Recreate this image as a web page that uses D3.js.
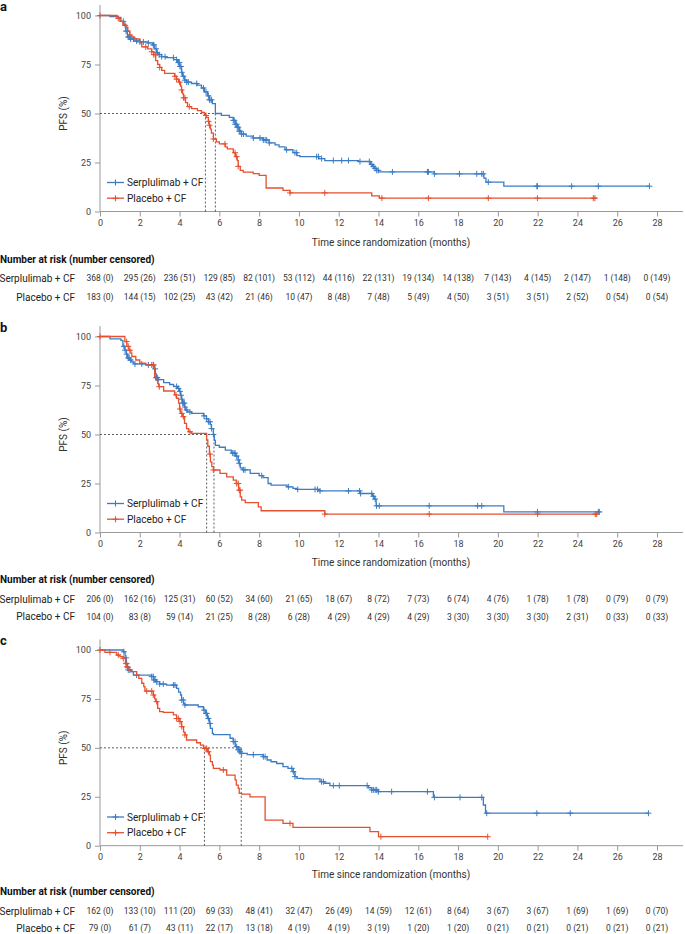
<!DOCTYPE html>
<html>
<head>
<meta charset="utf-8">
<script src="https://cdn.jsdelivr.net/npm/d3@7"></script>
<style>
  body { margin: 0; background: #fff; }
  svg { display: block; font-family: Roboto, "Noto Sans", sans-serif; }
</style>
</head>
<body>
<div id="main"></div>
<script>
// ---- data ----
const months = d3.range(0, 29, 2);
const yTicks = [0, 25, 50, 75, 100];
const groups = ['Serplulimab + CF', 'Placebo + CF'];

// panel a : [time, PFS after the drop]
const aSerpSteps = [[0.5,99.5],[0.92,99],[1.05,97],[1.2,95],[1.3,92],[1.38,89],[1.5,88],[1.7,87],[2.0,86.5],[2.4,86],[2.65,85],[2.75,83],[2.85,81],[2.95,80],[3.1,79],[3.3,78.5],[3.7,77.5],[3.9,76],[4.0,74],[4.1,71],[4.15,69],[4.25,67],[4.35,66],[4.6,65.3],[4.9,64.5],[5.1,63],[5.25,61],[5.4,59],[5.5,57],[5.65,55],[5.8,50],[6.1,49],[6.5,48],[6.7,46.5],[6.8,44.5],[6.9,43],[7.0,41],[7.1,39.5],[7.35,38.5],[7.7,37.5],[8.2,36.5],[8.5,35],[8.8,34],[9.0,33],[9.3,31.5],[9.7,30],[9.9,28.5],[10.05,28],[11.0,27],[11.3,26],[13.0,25.5],[13.6,24],[13.7,23],[13.8,22],[13.9,21],[14.0,20.2],[16.8,19.2],[19.3,17],[19.4,15],[20.3,12.9]];
const aSerpCensor = [1.17,1.26,1.31,1.37,1.42,1.47,1.54,1.68,1.84,2.01,2.18,2.43,2.68,2.71,2.82,2.88,2.98,3.1,3.27,3.69,3.85,3.94,3.99,4.02,4.07,4.11,4.19,4.27,4.36,4.44,4.86,5.2,5.33,5.45,5.5,5.53,5.61,6.7,6.75,6.8,6.87,6.9,6.95,7.0,7.04,7.12,7.21,7.71,8.04,8.21,8.3,8.38,8.51,9.38,9.8,9.89,10.89,10.98,11.14,11.73,12.15,12.49,13.07,13.54,13.66,13.74,13.83,13.91,13.99,14.7,16.46,16.51,16.81,18.07,18.94,19.19,19.27,19.52,21.96,21.99,23.71,25.05,27.62];
const aSerpEnd = 27.62;
const aPlacSteps = [[0.85,98.5],[1.0,97],[1.15,95.5],[1.3,94],[1.4,92],[1.5,90],[1.6,89],[1.75,88],[2.0,86],[2.1,84],[2.4,83],[2.6,81.5],[2.7,80],[2.8,77],[2.9,75],[3.0,73.5],[3.1,72],[3.25,70.5],[3.75,69],[3.85,67.5],[3.95,66],[4.05,64],[4.1,62],[4.15,60],[4.2,58],[4.3,55.5],[4.4,53.5],[4.6,52.5],[4.9,51.5],[5.1,50.5],[5.25,49],[5.35,48],[5.45,46],[5.5,44],[5.55,42],[5.6,40],[5.7,37],[5.85,35.5],[6.0,34.5],[6.3,33],[6.4,32],[6.7,30],[6.8,28],[6.9,26],[6.95,23],[7.05,21],[7.2,20.1],[7.7,19.3],[8.0,18.4],[8.35,12],[9.2,10.8],[9.55,9.5],[13.66,8.0],[14.04,6.8]];
const aPlacCensor = [0,0.92,1.5,2.3,2.6,2.7,2.78,3.0,3.77,3.85,4.0,4.1,4.2,4.27,4.49,5.33,5.45,5.5,5.7,6.28,6.79,6.87,6.95,9.55,11.3,14.17,16.51,19.52,21.99,24.8,24.88];
const aPlacEnd = 24.97;
const aMedians = [5.8, 5.3];
const aSerpRisk = [368,295,236,129,82,53,44,22,19,14,7,4,2,1,0];
const aSerpCens = [0,26,51,85,101,112,116,131,134,138,143,145,147,148,149];
const aPlacRisk = [183,144,102,43,21,10,8,7,5,4,3,3,2,0,0];
const aPlacCens = [0,15,25,42,46,47,48,48,49,50,51,51,52,54,54];

// panel b
const bSerpSteps = [[0.5,98.8],[1.05,98],[1.15,95],[1.25,93],[1.32,91],[1.38,89],[1.5,88],[1.6,87],[1.7,86],[2.3,85.5],[2.72,83.5],[2.78,81],[2.82,79],[2.9,78],[3.2,76.5],[3.5,75.5],[3.7,74.5],[3.9,73.5],[4.0,72],[4.05,70],[4.1,68],[4.15,66],[4.25,64],[4.3,62.5],[4.4,61.5],[4.6,60.8],[5.2,59.5],[5.35,58],[5.45,56.5],[5.55,55],[5.6,53],[5.7,50],[5.75,47],[5.8,44.5],[6.0,43.5],[6.3,42],[6.6,40.5],[6.8,39],[6.95,37],[7.0,35.3],[7.05,33],[7.15,32],[7.55,30.2],[8.0,29],[8.2,28],[8.45,25],[8.6,24.2],[9.4,23.3],[9.7,22.5],[9.9,22],[11.0,21.2],[13.07,19.9],[13.7,18.5],[13.8,17],[13.88,13.6],[20.3,10.5]];
const bSerpCensor = [1.2,1.26,1.34,1.42,1.47,1.54,1.76,2.1,2.43,2.68,2.77,2.82,2.85,2.88,2.93,3.85,3.94,4.02,4.07,4.11,4.16,4.19,4.24,4.27,4.36,4.52,5.23,5.36,5.45,5.53,5.61,5.7,6.67,6.74,6.79,6.87,6.95,7.0,7.21,7.29,8.13,9.47,9.94,10.81,10.93,11.06,12.49,13.05,13.1,13.66,13.74,13.83,13.9,14.04,16.55,18.98,19.19,21.99,25.05,25.1];
const bSerpEnd = 25.1;
const bPlacSteps = [[1.25,97.4],[1.35,95],[1.45,93],[1.55,91.5],[1.6,89.8],[1.8,88],[2.0,86.4],[2.3,85.5],[2.72,83.5],[2.75,79.6],[2.8,77.9],[2.9,76],[2.95,74.4],[3.2,72.2],[3.75,70.2],[3.85,68.5],[3.95,66],[4.0,63],[4.05,60.8],[4.15,59.1],[4.25,55.7],[4.35,53],[4.45,51.4],[4.6,50.6],[5.36,47.2],[5.42,44],[5.5,40],[5.55,36],[5.62,33.6],[5.7,31.9],[6.03,30.2],[6.37,28.4],[6.7,26.7],[6.85,25],[6.97,21.6],[7.05,18.2],[7.12,16.5],[7.3,15.2],[7.96,13.1],[8.1,11.1],[11.3,9.4]];
const bPlacCensor = [0,1.34,1.42,1.5,2.6,2.68,2.98,3.82,4.02,4.11,4.19,4.52,5.53,5.7,6.87,6.95,7.0,7.04,11.3,16.55,22.0,24.9,24.97];
const bPlacEnd = 24.97;
const bMedians = [5.73, 5.36];
const bSerpRisk = [206,162,125,60,34,21,18,8,7,6,4,1,1,0,0];
const bSerpCens = [0,16,31,52,60,65,67,72,73,74,76,78,78,79,79];
const bPlacRisk = [104,83,59,21,8,6,4,4,4,3,3,3,2,0,0];
const bPlacCens = [0,8,14,25,28,28,29,29,29,30,30,30,31,33,33];

// panel c
const cSerpSteps = [[1.17,99.1],[1.26,96],[1.32,93],[1.38,91],[1.42,89.8],[1.55,88.9],[1.68,87.2],[2.6,86.4],[2.7,84.7],[2.8,83.8],[3.0,82.6],[3.35,82.1],[3.85,80.4],[3.95,78.5],[4.05,77],[4.1,74.4],[4.2,72.5],[4.27,71.9],[4.94,71],[5.2,69.3],[5.3,67.6],[5.4,65],[5.5,62.5],[5.55,60],[5.65,57.4],[5.7,56.8],[6.54,54.9],[6.7,53.2],[6.8,50.6],[6.95,49],[7.04,48],[7.1,47.2],[7.4,46.5],[8.2,45.5],[8.4,43.8],[8.6,42.9],[8.88,42],[9.2,40.4],[9.45,39.5],[9.7,37.8],[9.8,35.3],[9.9,34.4],[10.2,34.1],[11.06,32.7],[11.3,31.9],[11.56,30.7],[13.49,29.6],[13.66,28.5],[13.99,27.6],[16.76,24.7],[19.27,20.8],[19.38,16.6]];
const cSerpCensor = [1.2,1.31,1.34,1.39,1.42,1.5,1.84,2.6,2.68,2.71,2.77,2.85,3.0,3.18,3.69,3.77,4.11,4.19,4.27,5.23,5.33,5.36,5.45,5.53,6.7,6.79,6.87,6.95,7.0,7.04,7.12,7.71,8.21,8.3,9.64,9.72,9.8,11.14,11.23,11.73,12.03,13.43,13.66,13.74,13.83,13.91,13.99,14.66,16.46,16.81,18.1,19.19,19.44,21.96,23.64,27.57];
const cSerpEnd = 27.57;
const cPlacSteps = [[0.25,98.8],[0.84,97.4],[1.0,96.6],[1.15,95.7],[1.28,93.2],[1.35,91.5],[1.42,89.8],[1.6,88.9],[1.84,87.2],[1.95,85.5],[2.1,83],[2.2,81.3],[2.26,79],[2.68,77],[2.75,75],[2.8,73.6],[2.9,70.2],[3.0,68.5],[3.18,68.1],[3.69,66.8],[3.85,65],[4.02,63.4],[4.1,60.8],[4.2,58],[4.27,56.6],[4.35,54],[4.86,52.6],[5.05,51.4],[5.2,49.7],[5.4,48],[5.5,46.3],[5.55,43],[5.65,41.2],[5.7,39.5],[6.03,38.7],[6.37,36.1],[6.79,33.6],[6.85,31],[6.95,29.3],[7.0,26.7],[7.12,26.4],[7.54,25],[8.3,13.1],[9.2,11.4],[9.7,9.4],[13.57,7.2],[14.0,4.6]];
const cPlacCensor = [0,0.5,0.92,1.17,1.3,1.37,2.35,2.6,2.68,2.85,3.85,3.94,4.02,4.11,4.27,5.28,5.36,5.45,6.2,9.55,14.12,19.49];
const cPlacEnd = 19.49;
const cMedians = [7.1, 5.25];
const cSerpRisk = [162,133,111,69,48,32,26,14,12,8,3,3,1,1,0];
const cSerpCens = [0,10,20,33,41,47,49,59,61,64,67,67,69,69,70];
const cPlacRisk = [79,61,43,22,13,4,4,3,1,1,0,0,0,0,0];
const cPlacCens = [0,7,11,17,18,19,19,19,20,20,21,21,21,21,21];

const colors = ['#3b7cc4', '#e5502f'];

// table offsets below the x axis: [title, header, first row, row gap]
const panels = [
  { label: 'a', top: 15.5, bottom: 211.5, table: [30.5, 47.5, 67, 18.8],
    curves: [[aSerpSteps, aSerpCensor, aSerpEnd], [aPlacSteps, aPlacCensor, aPlacEnd]],
    medians: aMedians, risk: [[aSerpRisk, aSerpCens], [aPlacRisk, aPlacCens]] },
  { label: 'b', top: 336.5, bottom: 532.5, table: [29.5, 46.5, 66.5, 17.8],
    curves: [[bSerpSteps, bSerpCensor, bSerpEnd], [bPlacSteps, bPlacCensor, bPlacEnd]],
    medians: bMedians, risk: [[bSerpRisk, bSerpCens], [bPlacRisk, bPlacCens]] },
  { label: 'c', top: 650, bottom: 845.7, table: [29, 46, 65.5, 17],
    curves: [[cSerpSteps, cSerpCensor, cSerpEnd], [cPlacSteps, cPlacCensor, cPlacEnd]],
    medians: cMedians, risk: [[cSerpRisk, cSerpCens], [cPlacRisk, cPlacCens]] }
];

// ---- drawing ----
const width = 685, height = 934;
const svg = d3.select('#main').append('svg')
  .attr('width', width)
  .attr('height', height);

const x = d3.scaleLinear().domain([0, 28]).range([100, 657]);
const plus = 'M-3,0H3M0,-3V3';
const stepLine = d3.line().curve(d3.curveStepAfter);

panels.forEach((p) => {
  const g = svg.append('g');
  const y = d3.scaleLinear().domain([0, 100]).range([p.bottom, p.top]);
  const [tTitle, tHead, tRow, tGap] = p.table;

  g.append('text')
    .attr('x', 0).attr('y', p.top - 5)
    .attr('font-size', 13).attr('font-weight', 700).attr('fill', '#111')
    .text(p.label);

  // axes
  g.append('line')
    .attr('x1', 100).attr('x2', 683).attr('y1', p.bottom).attr('y2', p.bottom)
    .attr('stroke', '#999').attr('stroke-width', 1);
  g.append('line')
    .attr('x1', 100).attr('x2', 100).attr('y1', p.bottom).attr('y2', p.top - 10.5)
    .attr('stroke', '#999').attr('stroke-width', 1);

  const xAxis = g.append('g')
    .attr('transform', `translate(0, ${p.bottom})`)
    .call(d3.axisBottom(x).tickValues(months).tickSize(5).tickPadding(3));
  const yAxis = g.append('g')
    .attr('transform', 'translate(100, 0)')
    .call(d3.axisLeft(y).tickValues(yTicks).tickSize(5).tickPadding(4));
  [xAxis, yAxis].forEach((ax) => {
    ax.select('.domain').remove();
    ax.selectAll('line').attr('stroke', '#999');
    ax.selectAll('text').attr('fill', '#444').attr('font-size', 9).attr('font-family', 'Roboto');
  });

  g.append('text')
    .attr('transform', `translate(63, ${(p.top + p.bottom) / 2}) rotate(-90)`)
    .attr('text-anchor', 'middle').attr('dy', '0.35em')
    .attr('font-size', 10).attr('fill', '#333')
    .text('PFS (%)');

  g.append('text')
    .attr('x', 391).attr('y', p.bottom + tTitle).attr('dy', '0.35em')
    .attr('text-anchor', 'middle').attr('font-size', 10).attr('fill', '#333')
    .text('Time since randomization (months)');

  // median guides
  const medLen = d3.max(p.medians);
  g.append('path')
    .attr('d', `M${x(0)},${y(50)}H${x(medLen)}` +
      p.medians.map((m) => `M${x(m)},${y(50)}V${y(0)}`).join(''))
    .attr('fill', 'none').attr('stroke', '#333')
    .attr('stroke-width', 0.8).attr('stroke-dasharray', '2,2');

  // survival curves
  p.curves.forEach(([steps, censor, end], i) => {
    const pts = [[0, 100]].concat(steps, [[end, steps[steps.length - 1][1]]]);
    g.append('path')
      .attr('d', stepLine(pts.map((d) => [x(d[0]), y(d[1])])))
      .attr('fill', 'none').attr('stroke', colors[i])
      .attr('stroke-width', 1.3);

    const surv = (t) => {
      let s = 100;
      steps.forEach((d) => { if (d[0] <= t) s = d[1]; });
      return s;
    };
    g.selectAll(null)
      .data(censor)
      .enter()
      .append('path')
      .attr('d', plus)
      .attr('transform', (t) => `translate(${x(t)}, ${y(surv(t))})`)
      .attr('fill', 'none').attr('stroke', colors[i]).attr('stroke-width', 1);
  });

  // legend
  groups.forEach((name, i) => {
    const ly = p.top + 167 + i * 15.7;
    g.append('line')
      .attr('x1', 107).attr('x2', 124).attr('y1', ly).attr('y2', ly)
      .attr('stroke', colors[i]).attr('stroke-width', 1.3);
    g.append('path')
      .attr('d', plus).attr('transform', `translate(115.5, ${ly})`)
      .attr('stroke', colors[i]).attr('stroke-width', 1.1);
    g.append('text')
      .attr('x', 127).attr('y', ly).attr('dy', '0.35em')
      .attr('font-size', 10.1).attr('fill', '#222')
      .text(name);
  });

  // number at risk table
  g.append('text')
    .attr('x', 0).attr('y', p.bottom + tHead).attr('dy', '0.35em')
    .attr('font-size', 10).attr('font-weight', 700).attr('fill', '#111')
    .text('Number at risk (number censored)');

  p.risk.forEach(([n, c], i) => {
    const ry = p.bottom + tRow + i * tGap;
    g.append('text')
      .attr('x', 75).attr('y', ry).attr('dy', '0.35em')
      .attr('text-anchor', 'end').attr('font-size', 10).attr('fill', '#222')
      .text(groups[i]);
    g.selectAll(null)
      .data(months)
      .enter()
      .append('text')
      .attr('x', (m) => x(m))
      .attr('y', ry).attr('dy', '0.35em')
      .attr('text-anchor', 'middle').attr('font-size', 8.5).attr('fill', '#333')
      .text((m, j) => `${n[j]} (${c[j]})`);
  });
});
</script>
</body>
</html>
